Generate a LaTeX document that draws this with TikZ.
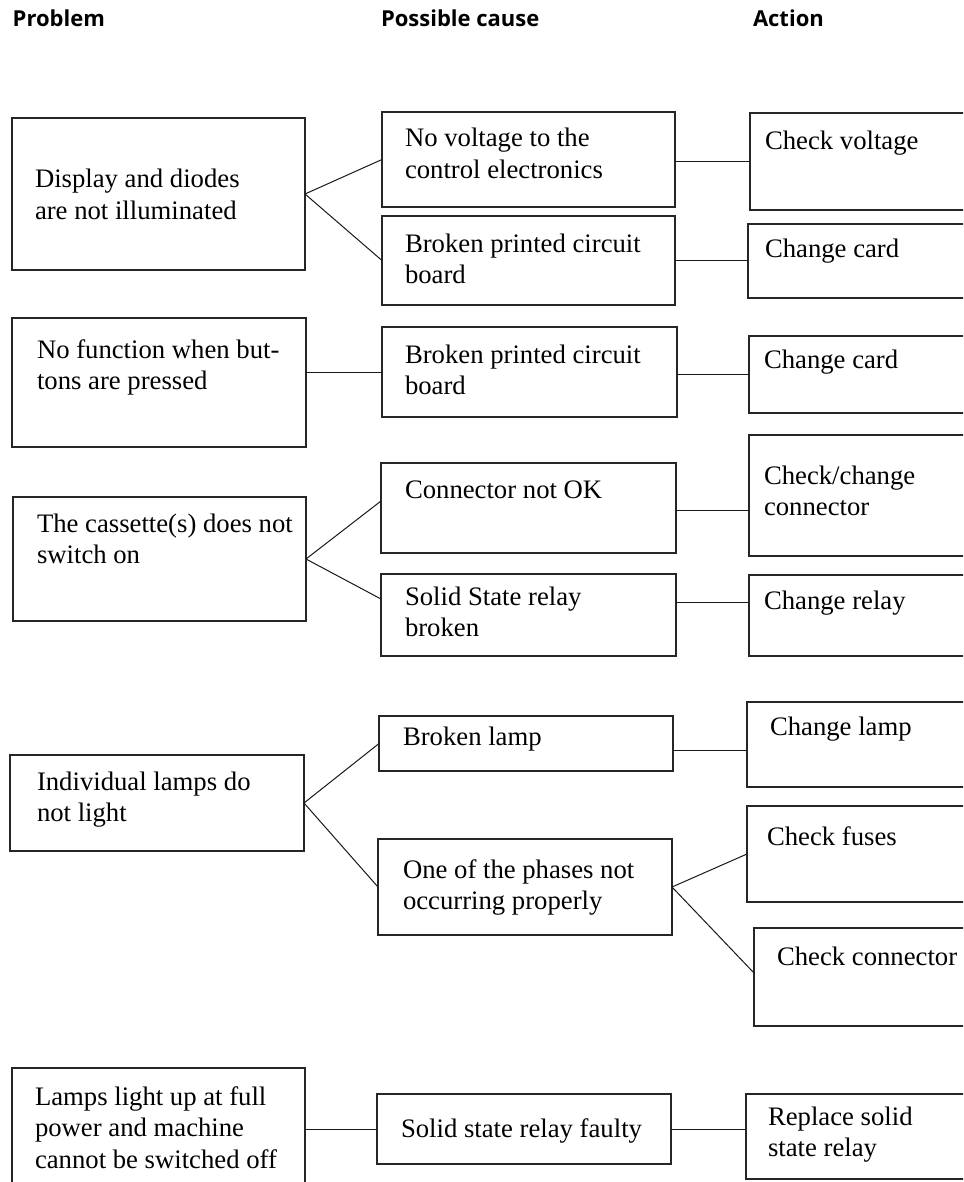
\documentclass[tikz,border=0pt]{standalone}
\usepackage{fontspec}
\setmainfont{Liberation Serif}
\newfontfamily\hdrfont{Open Sans}
\usetikzlibrary{calc}
\tikzset{
  bx/.style={draw=black!85, line width=1.2pt, rectangle, inner sep=0pt, outer sep=0pt},
  tx/.style={inner sep=0pt, outer sep=0pt, align=left, anchor=base west,
     font=\fontsize{26.7}{31.7}\selectfont},
  txtwo/.style={tx, yshift=-31.7pt},
  txthree/.style={tx, yshift=-63.4pt},
  hd/.style={inner sep=0pt, outer sep=0pt, anchor=base west,
     font=\hdrfont\bfseries\fontsize{22}{26}\selectfont},
  ln/.style={draw=black!90, line width=1pt}
}
\newcommand\mkbox[5]{\node[bx, anchor=north west, minimum width={(#4-#2)*1pt}, minimum height={(#5-#3)*1pt}] (#1) at (#2,#3) {};}
\begin{document}
\begin{tikzpicture}[x=1pt,y=-1pt]
\clip (0,0) rectangle (963,1182);
\fill[white] (0,0) rectangle (963,1182);
% headers
\node[hd] (h1) at (12.7,26.5) {Problem};
\node[hd] (h2) at (381,26.5) {Possible cause};
\node[hd] (h3) at (753,26.5) {Action};
% row 1
\mkbox{P1}{12}{118}{305}{270}
\node[txtwo] (P1t) at (35,188) {Display and diodes\\are not illuminated};
\mkbox{C1}{382}{112}{675}{207}
\node[txtwo] (C1t) at (405,147) {No voltage to the\\control electronics};
\mkbox{C2}{382}{216}{675}{305}
\node[txtwo] (C2t) at (405,252) {Broken printed circuit\\board};
\mkbox{A1}{750}{113}{995}{210}
\node[tx] (A1t) at (765,150) {Check voltage};
\mkbox{A2}{748}{224}{995}{298}
\node[tx] (A2t) at (765,257) {Change card};
% row 2
\mkbox{P2}{12}{318}{306}{447}
\node[txtwo] (P2t) at (37,358) {No function when but-\\tons are pressed};
\mkbox{C2b}{382}{327}{677}{417}
\node[txtwo] (C2bt) at (405,363) {Broken printed circuit\\board};
\mkbox{A2b}{749}{336}{995}{413}
\node[tx] (A2bt) at (764,368) {Change card};
% row 3
\mkbox{P3}{13}{497}{306}{621}
\node[txtwo] (P3t) at (37,532) {The cassette(s) does not\\switch on};
\mkbox{C3a}{381}{463}{676}{553}
\node[tx] (C3at) at (405,498) {Connector not OK};
\mkbox{C3b}{381}{574}{676}{656}
\node[txtwo] (C3bt) at (405,605) {Solid State relay\\broken};
\mkbox{A3a}{749}{435}{995}{556}
\node[txtwo] (A3at) at (764,484) {Check/change\\connector};
\mkbox{A3b}{749}{575}{995}{656}
\node[tx] (A3bt) at (764,609) {Change relay};
% row 4
\mkbox{P4}{10}{755}{304}{851}
\node[txtwo] (P4t) at (37,790) {Individual lamps do\\not light};
\mkbox{C4a}{379}{716}{673}{771}
\node[tx] (C4at) at (403,745) {Broken lamp};
\mkbox{C4b}{378}{839}{672}{935}
\node[txtwo] (C4bt) at (403,878) {One of the phases not\\occurring properly};
\mkbox{A4a}{747}{702}{995}{787}
\node[tx] (A4at) at (770,735) {Change lamp};
\mkbox{A4b}{747}{806}{995}{902}
\node[tx] (A4bt) at (767,845) {Check fuses};
\mkbox{A4c}{754}{928}{995}{1026}
\node[tx] (A4ct) at (777,965) {Check connector};
% row 5
\mkbox{P5}{12}{1068}{305}{1210}
\node[txthree] (P5t) at (35,1105) {Lamps light up at full\\power and machine\\cannot be switched off};
\mkbox{C5}{377}{1094}{671}{1164}
\node[tx] (C5t) at (401,1137) {Solid state relay faulty};
\mkbox{A5}{746}{1094}{995}{1179}
\node[txtwo] (A5t) at (768,1125) {Replace solid\\state relay};
% connectors
\draw[ln] (P1.east) -- (C1.west);
\draw[ln] (P1.east) -- (C2.west);
\coordinate (c1out) at ($(C1.east)+(0,2.5)$);
\draw[ln] (c1out) -- (c1out -| A1.west);
\draw[ln] (C2.east) -- (C2.east -| A2.west);
\draw[ln] (P2.east |- C2b.west) -- (C2b.west);
\coordinate (c2bout) at ($(C2b.east)+(0,2)$);
\draw[ln] (c2bout) -- (c2bout -| A2b.west);
\coordinate (c3ain) at ($(C3a.west)+(0,-7)$);
\coordinate (c3bin) at ($(C3b.west)+(0,-16)$);
\draw[ln] (P3.east) -- (c3ain);
\draw[ln] (P3.east) -- (c3bin);
\coordinate (c3aout) at ($(C3a.east)+(0,2)$);
\draw[ln] (c3aout) -- (c3aout -| A3a.west);
\coordinate (c3bout) at ($(C3b.east)+(0,-13)$);
\draw[ln] (c3bout) -- (c3bout -| A3b.west);
\draw[ln] (P4.east) -- (C4a.west);
\draw[ln] (P4.east) -- (C4b.west);
\coordinate (c4aout) at ($(C4a.east)+(0,6.5)$);
\draw[ln] (c4aout) -- (c4aout -| A4a.west);
\draw[ln] (C4b.east) -- (A4b.west);
\coordinate (a4cin) at ($(A4c.west)+(0,-4)$);
\draw[ln] (C4b.east) -- (a4cin);
\draw[ln] (P5.east |- C5.west) -- (C5.west);
\draw[ln] (C5.east) -- (C5.east -| A5.west);
\end{tikzpicture}
\end{document}
